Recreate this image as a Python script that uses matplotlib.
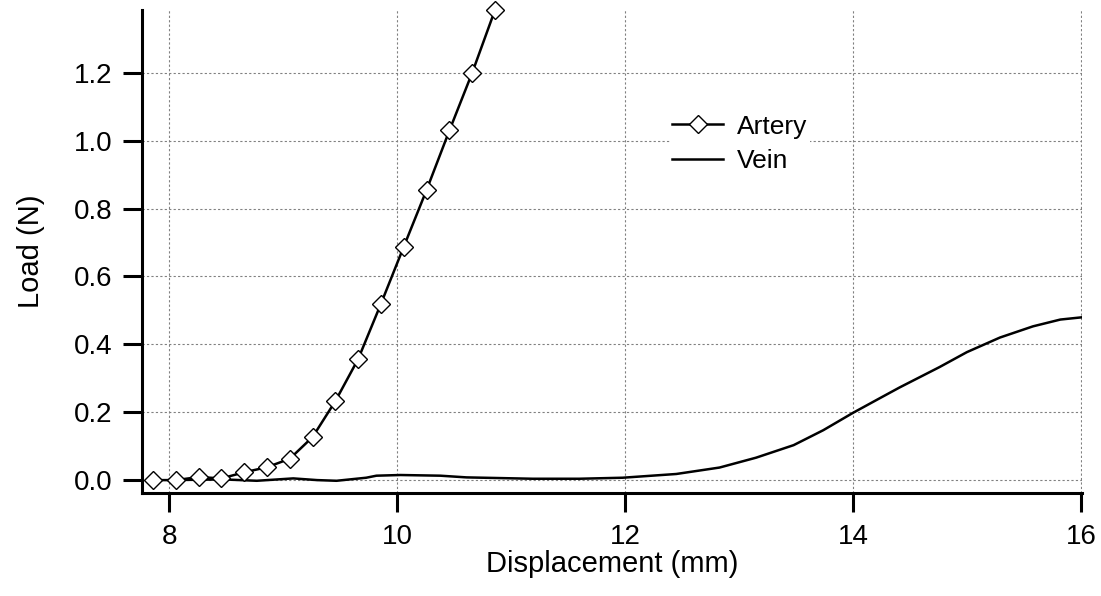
import matplotlib
matplotlib.use('Agg')
import matplotlib.pyplot as plt

plt.rcParams['font.family'] = ['Liberation Sans', 'DejaVu Sans']

# Artery: displacement (mm) and load (N)
artery_x = [7.86, 8.06, 8.26, 8.46, 8.66, 8.86, 9.06, 9.26, 9.46, 9.66,
            9.86, 10.06, 10.26, 10.46, 10.66, 10.86]
artery_y = [0.0, 0.0, 0.009, 0.005, 0.023, 0.038, 0.063, 0.127, 0.233, 0.357,
            0.52, 0.688, 0.855, 1.03, 1.2, 1.385]

# Vein
vein_x = [8.0, 8.48, 8.77, 9.09, 9.3, 9.47, 9.73, 9.82, 10.03, 10.38, 10.61,
          11.19, 11.6, 11.98, 12.45, 12.83, 13.15, 13.48, 13.74, 14.0, 14.24,
          14.41, 14.76, 15.0, 15.29, 15.58, 15.82, 16.02]
vein_y = [0.0, 0.002, -0.002, 0.005, 0.0, -0.002, 0.007, 0.013, 0.015, 0.013,
          0.008, 0.004, 0.004, 0.007, 0.018, 0.037, 0.066, 0.103, 0.147, 0.198,
          0.242, 0.273, 0.333, 0.377, 0.42, 0.453, 0.473, 0.48]

x_ticks = [8, 10, 12, 14, 16]
y_ticks = [0.0, 0.2, 0.4, 0.6, 0.8, 1.0, 1.2]

fig = plt.figure(figsize=(11.01, 5.96), dpi=100)
ax = fig.add_axes([142 / 1101, 1 - 493 / 596, 940 / 1101, 483 / 596])

ax.plot(artery_x, artery_y, color='black', lw=1.8, marker='D', markersize=9,
        markerfacecolor='white', markeredgecolor='black', markeredgewidth=1.0,
        label='Artery', clip_on=False, zorder=3)
ax.plot(vein_x, vein_y, color='black', lw=1.8, label='Vein', zorder=2)

ax.set_xlim(7.763, 16.01)
ax.set_ylim(-0.038, 1.385)
ax.set_xticks(x_ticks)
ax.set_xticklabels([str(t) for t in x_ticks])
ax.set_yticks(y_ticks)
ax.set_yticklabels(['%.1f' % t for t in y_ticks])

for side in ['top', 'right']:
    ax.spines[side].set_visible(False)
for side in ['left', 'bottom']:
    ax.spines[side].set_linewidth(2.2)

ax.tick_params(axis='both', direction='out', length=14, width=2.2,
               labelsize=20)
ax.tick_params(axis='x', pad=8)
ax.tick_params(axis='y', pad=7)
ax.grid(True, color='#808080', linestyle=(0, (2, 2)), linewidth=0.8)
ax.set_axisbelow(True)

ax.set_xlabel('Displacement (mm)', fontsize=21, labelpad=0)
ax.set_ylabel('Load (N)', fontsize=21, labelpad=21)

leg = ax.legend(loc='center', bbox_to_anchor=(0.636, 0.723), fontsize=19,
                frameon=True, fancybox=False, framealpha=1, borderpad=0.1,
                handlelength=1.93, handletextpad=0.53, labelspacing=0.4)
leg.get_frame().set_edgecolor('none')
leg.get_frame().set_facecolor('white')

fig.savefig('out.png', dpi=100)
